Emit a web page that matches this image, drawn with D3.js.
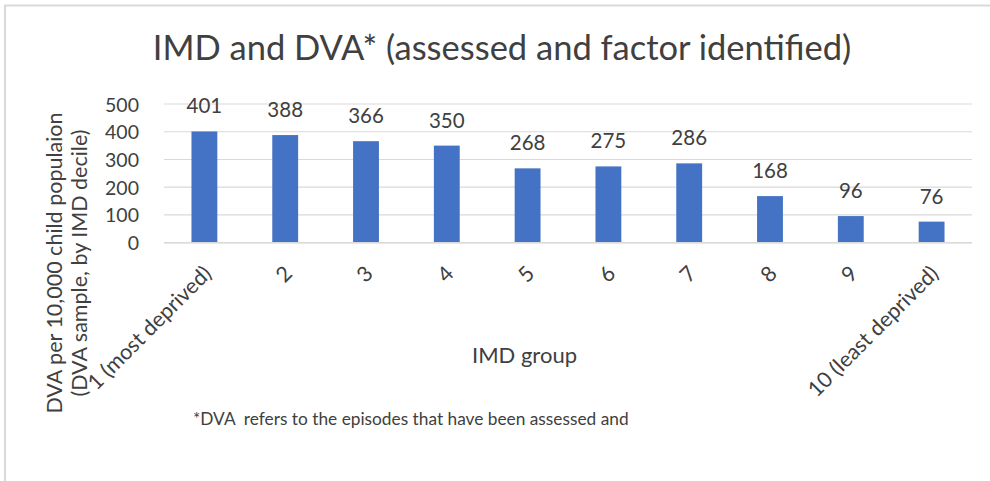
<!DOCTYPE html>
<html>
<head>
<meta charset="utf-8">
<script src="https://cdn.jsdelivr.net/npm/d3@7"></script>
<style>
  html, body { margin: 0; padding: 0; background: #fff; }
  svg { display: block; }
  text { font-family: Lato, "Open Sans", sans-serif; fill: #404040; }
</style>
</head>
<body>
<svg id="chart" width="990" height="481"></svg>
<script>
const categories = ["1 (most deprived)", "2", "3", "4", "5", "6", "7", "8", "9", "10 (least deprived)"];
const values = [401, 388, 366, 350, 268, 275, 286, 168, 96, 76];
const yTicks = [0, 100, 200, 300, 400, 500];
const titleText = "IMD and DVA* (assessed and factor identified)";
const yTitleLines = ["DVA per 10,000 child populaion", "(DVA sample, by IMD decile)"];
const xTitleText = "IMD group";
const footnoteText = "*DVA  refers to the episodes that have been assessed and";

const svg = d3.select("#chart");

// outer border (chart area frame)
svg.append("rect")
  .attr("x", 5).attr("y", 5.5)
  .attr("width", 1200).attr("height", 1200)
  .attr("fill", "none").attr("stroke", "#d9d9d9").attr("stroke-width", 2);

const x = d3.scaleBand().domain(categories).range([164, 972])
  .paddingInner(0.68).paddingOuter(0.34);
const y = d3.scaleLinear().domain([0, 500]).range([242.7, 104]);

// gridlines
svg.append("g").selectAll("line").data(yTicks).join("line")
  .attr("x1", 164).attr("x2", 972)
  .attr("y1", d => y(d)).attr("y2", d => y(d))
  .attr("stroke", "#d9d9d9").attr("stroke-width", 1.2);

// bars
svg.append("g").selectAll("rect").data(values).join("rect")
  .attr("x", (d, i) => x(categories[i]))
  .attr("width", x.bandwidth())
  .attr("y", d => y(d))
  .attr("height", d => y(0) - y(d))
  .attr("fill", "#4472C4");

// x axis line
svg.append("line").attr("x1", 164).attr("x2", 972)
  .attr("y1", y(0)).attr("y2", y(0))
  .attr("stroke", "#d9d9d9").attr("stroke-width", 1.5);

// data labels
svg.append("g").selectAll("text").data(values).join("text")
  .attr("x", (d, i) => x(categories[i]) + x.bandwidth() / 2)
  .attr("y", d => y(d) - 18)
  .attr("text-anchor", "middle")
  .style("font-size", "20.5px")
  .text(d => d);

// y axis tick labels
const yAxis = d3.axisLeft(y).tickValues(yTicks).tickSize(0).tickPadding(0);
const yg = svg.append("g").attr("transform", "translate(139,0)").call(yAxis);
yg.select(".domain").remove();
yg.selectAll("text")
  .attr("font-family", null)
  .style("font-size", "19.5px")
  .style("fill", "#404040")
  .attr("dy", "0.36em");

// x axis tick labels (rotated)
const xAxis = d3.axisBottom(x).tickSize(0).tickPadding(0);
const xg = svg.append("g").attr("transform", `translate(0,${y(0)})`).call(xAxis);
xg.select(".domain").remove();
xg.selectAll("text")
  .attr("font-family", null)
  .style("font-size", "21.5px")
  .style("fill", "#404040")
  .attr("text-anchor", "end")
  .attr("y", 0).attr("dy", "0.35em")
  .attr("transform", "translate(3,27) rotate(-45)");

// title
svg.append("text")
  .attr("x", 502).attr("y", 60)
  .attr("text-anchor", "middle")
  .style("font-size", "34.5px")
  .text(titleText);

// y axis title
svg.append("g").attr("transform", "translate(0,263) rotate(-90)")
  .selectAll("text").data(yTitleLines).join("text")
  .attr("x", 0).attr("y", (d, i) => 62 + i * 24.5)
  .attr("text-anchor", "middle")
  .style("font-size", "21.5px")
  .text(d => d);

// x axis title
svg.append("text")
  .attr("x", 524.5).attr("y", 363)
  .attr("text-anchor", "middle")
  .style("font-size", "22px")
  .text(xTitleText);

// footnote
svg.append("text")
  .attr("x", 193).attr("y", 425)
  .style("font-size", "17.3px")
  .style("white-space", "pre")
  .text(footnoteText);
</script>
</body>
</html>
